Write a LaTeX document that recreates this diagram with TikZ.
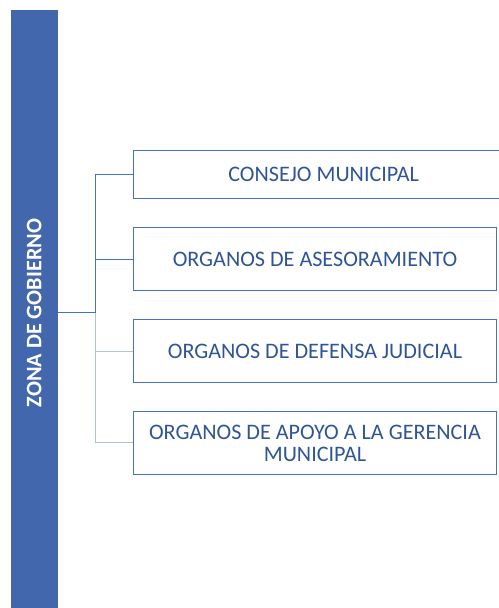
\documentclass[tikz,border=0pt]{standalone}
\usepackage{fontspec}
\setmainfont{Carlito}
\usepackage{tikz}
\usetikzlibrary{
  positioning
}
\definecolor{zgBar}{HTML}{4267AC}
\definecolor{zgLine}{HTML}{4472C4}
\definecolor{zgPale}{HTML}{AFC2E4}
\definecolor{zgText}{HTML}{2F5597}
\tikzset{
  zonebar/.style={
    fill=zgBar, draw=none, rotate=90, inner sep=0pt,
    minimum width=454.5pt, minimum height=35.1pt,
    text=white, font=\fontsize{16.6}{18}\selectfont\bfseries
  },
  unitbox/.style={
    draw=zgLine, line width=0.75pt, fill=white, anchor=north west,
    minimum height=47pt, minimum width=272.5pt, inner sep=2pt, outer sep=0pt,
    align=center, text=zgText, font=\fontsize{16.6}{16.5}\selectfont
  },
  link/.style={draw=zgLine, line width=0.75pt},
  palelink/.style={draw=zgPale, line width=0.75pt}
}

\begin{document}
\begin{tikzpicture}[x=0.75pt, y=-0.75pt, node distance=21.9pt]
  \useasboundingbox (0,0) rectangle (499,608);
  \clip (0,0) rectangle (499,608);
  \node[zonebar] (zona) at (34.1,313) {ZONA DE GOBIERNO};
  \node[unitbox, minimum height=36.3pt, minimum width=285.5pt] (cons) at (133.3,150.3) {CONSEJO MUNICIPAL};
  \node[unitbox, below=of cons.south west, anchor=north west] (ases) {ORGANOS DE ASESORAMIENTO};
  \node[unitbox, below=of ases.south west, anchor=north west] (defe) {ORGANOS DE DEFENSA JUDICIAL};
  \node[unitbox, below=of defe.south west, anchor=north west] (apoy) {ORGANOS DE APOYO A LA GERENCIA\\MUNICIPAL};
  \coordinate (hub) at (95.7,312.7);
  % pale branches first, dark ones on top
  \draw[palelink] (hub) |- (defe.west);
  \draw[palelink] (hub) |- (apoy.west);
  \draw[link] (zona.south |- hub) -- (hub) |- (cons.west);
  \draw[link] (hub) |- (ases.west);
\end{tikzpicture}
\end{document}
